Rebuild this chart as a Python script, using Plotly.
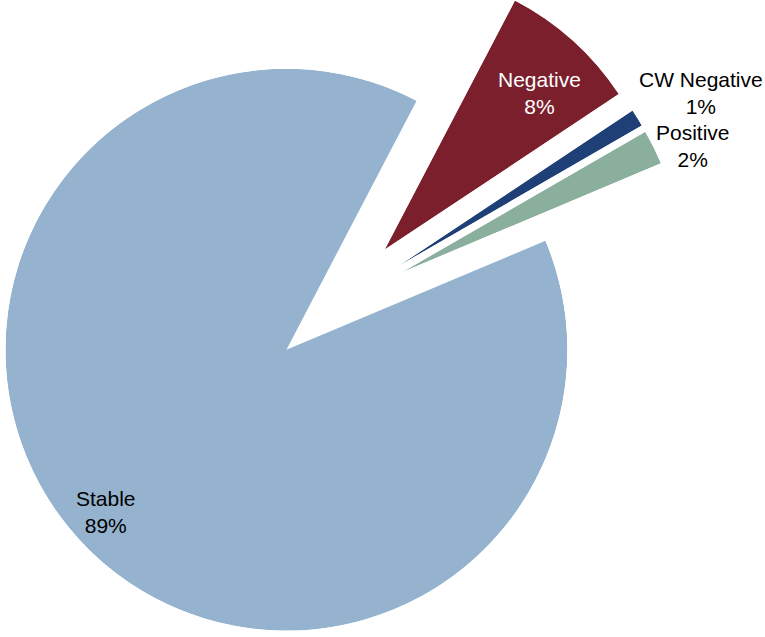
import math
import plotly.graph_objects as go

# ---- data ----
labels = ["Negative", "CW Negative", "Positive", "Stable"]
values = [8, 1, 2, 89]

# ---- styles / geometry ----
colors = ["#7B1F2C", "#1F3F77", "#8BAF9D", "#95B3CF"]
text_colors = ["#FFFFFF", "#000000", "#000000", "#000000"]
W, H = 765, 637
R = 281.0            # pie radius in px
CX, CY = 334.0, 306.0  # centre of the un-exploded pie in px
START = 27.6         # compass angle (clockwise from 12 o'clock) where the first slice starts
explode = [0.27, 0.27, 0.27, 0.23]  # explosion as a fraction of the radius
# label placement: (compass angle from the slice apex, distance as fraction of R)
label_place = [(44.6, 0.785), (60.2, 1.24), (66.6, 1.13), (228.0, 0.862)]
FONT = "Arial, Liberation Sans, sans-serif"


def sector_bbox(m0, m1):
    pts = [(0.0, 0.0),
           (math.cos(math.radians(m0)), math.sin(math.radians(m0))),
           (math.cos(math.radians(m1)), math.sin(math.radians(m1)))]
    for k in range(-8, 9):
        ang = 90 * k
        if m0 < ang < m1:
            pts.append((math.cos(math.radians(ang)), math.sin(math.radians(ang))))
    xs = [p[0] for p in pts]
    ys = [p[1] for p in pts]
    return min(xs), min(ys), max(xs), max(ys)


def clamp(v):
    return max(0.0, min(1.0, v))


fig = go.Figure()
total = float(sum(values))
layout_polars = {}
annotations = []
a = START
for i, (lab, v) in enumerate(zip(labels, values)):
    span = v / total * 360.0
    a0, a1 = a, a + span
    a = a1
    mid = (a0 + a1) / 2.0
    ex = explode[i] * R
    px = CX + ex * math.sin(math.radians(mid))
    py = CY - ex * math.cos(math.radians(mid))
    key = "polar" if i == 0 else "polar%d" % (i + 1)

    if span > 90:
        sector = [0, 360]
        xmin, ymin, xmax, ymax = -1.0, -1.0, 1.0, 1.0
    else:
        m0, m1 = 90.0 - a1, 90.0 - a0
        sector = [m0, m1]
        xmin, ymin, xmax, ymax = sector_bbox(m0, m1)

    dom_x = [clamp((px + R * xmin) / W), clamp((px + R * xmax) / W)]
    dom_y = [clamp(1 - (py - R * ymin) / H), clamp(1 - (py - R * ymax) / H)]

    fig.add_trace(go.Barpolar(
        r=[1], theta=[mid], width=[span],
        marker=dict(color=colors[i], line=dict(width=0)),
        name=lab, subplot=key,
        hovertemplate="%s: %d%%<extra></extra>" % (lab, v),
    ))
    layout_polars[key] = dict(
        domain=dict(x=dom_x, y=dom_y),
        sector=sector,
        bgcolor="rgba(0,0,0,0)",
        hole=0,
        bargap=0,
        radialaxis=dict(range=[0, 1], visible=False, showgrid=False,
                        showline=False, showticklabels=False, ticks=""),
        angularaxis=dict(direction="clockwise", rotation=90, visible=False,
                         showgrid=False, showline=False, showticklabels=False,
                         ticks=""),
    )

    th, rf = label_place[i]
    lx = px + rf * R * math.sin(math.radians(th))
    ly = py - rf * R * math.cos(math.radians(th))
    annotations.append(dict(
        x=lx / W, y=1 - ly / H, xref="paper", yref="paper",
        xanchor="center", yanchor="middle", align="center",
        text="%s<br>%d%%" % (lab, v), showarrow=False,
        font=dict(family=FONT, size=21, color=text_colors[i]),
    ))

fig.update_layout(
    width=W, height=H,
    margin=dict(l=0, r=0, t=0, b=0),
    paper_bgcolor="#FFFFFF",
    plot_bgcolor="#FFFFFF",
    showlegend=False,
    annotations=annotations,
    font=dict(family=FONT),
    **layout_polars,
)

fig.write_html("out.html")
